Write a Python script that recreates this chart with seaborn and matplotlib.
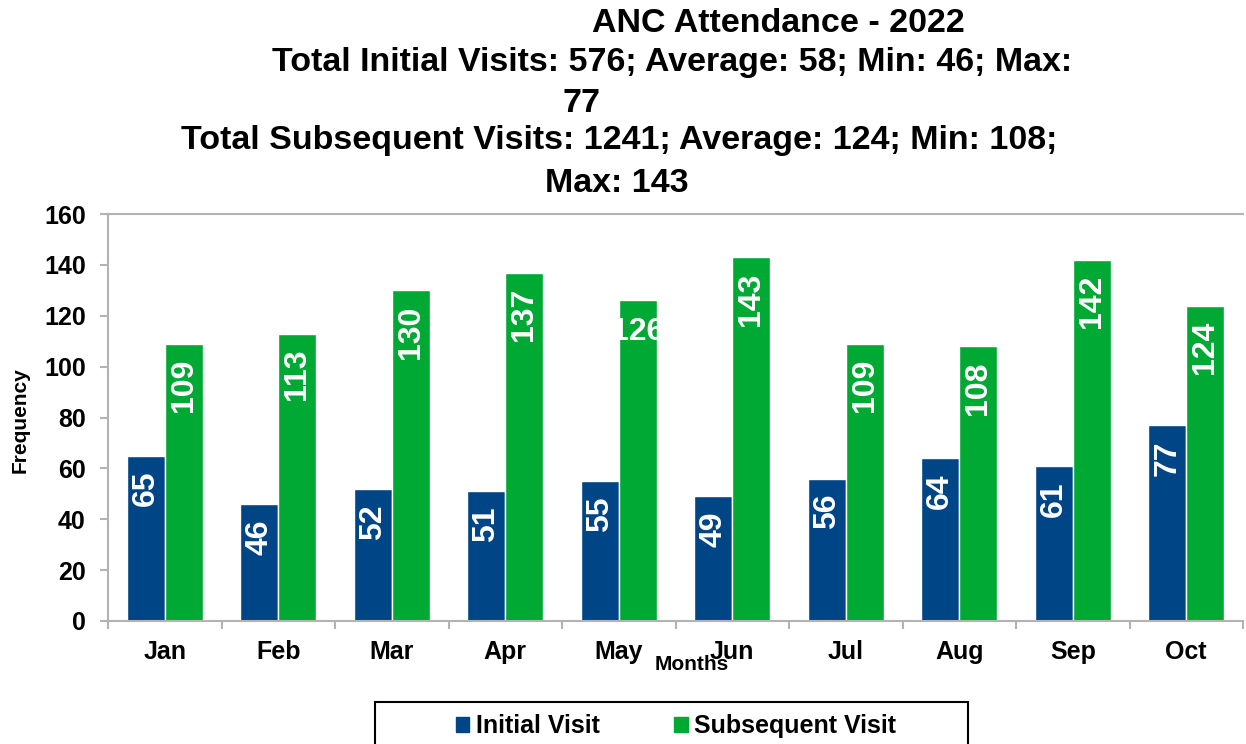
### anc attendance 2022 chart
#   grouped bars of initial and subsequent visits per month

# import statements
import matplotlib
matplotlib.use('Agg')
import matplotlib.pyplot as plt
import matplotlib.patches as mpatches
import pandas as pd
import seaborn as sns

# chart data
months      = ['Jan', 'Feb', 'Mar', 'Apr', 'May', 'Jun', 'Jul', 'Aug', 'Sep', 'Oct']
initial     = [65, 46, 52, 51, 55, 49, 56, 64, 61, 77]
subsequent  = [109, 113, 130, 137, 126, 143, 109, 108, 142, 124]
series      = ['Initial Visit', 'Subsequent Visit']
y_ticks     = [0, 20, 40, 60, 80, 100, 120, 140, 160]
title_lines = ['ANC Attendance - 2022',
               'Total Initial Visits: 576; Average: 58; Min: 46; Max:',
               '77',
               'Total Subsequent Visits: 1241; Average: 124; Min: 108;',
               'Max: 143']

# long dataset for seaborn
df = pd.DataFrame({'month': months * 2,
                   'visits': initial + subsequent,
                   'type': [series[0]] * len(months) + [series[1]] * len(months)})

# graphical parameters
sns.set_style('white')
plt.rcParams['font.family'] = ['Liberation Sans', 'DejaVu Sans']
plt.rcParams['font.weight'] = 'bold'
plt.rcParams['text.color'] = 'black'
plt.rcParams['axes.labelcolor'] = 'black'
plt.rcParams['xtick.labelcolor'] = 'black'
plt.rcParams['ytick.labelcolor'] = 'black'
colors = {'Initial Visit': '#004586', 'Subsequent Visit': '#00a933'}
grey = '#b3b3b3'
W, H = 1246, 744

fig = plt.figure(figsize = (W / 100, H / 100), dpi = 100)
ax = fig.add_axes([108 / W, 1 - 621 / H, (1243 - 108) / W, (621 - 214) / H])

sns.barplot(data = df, x = 'month', y = 'visits', hue = 'type',
            order = months, hue_order = series, palette = colors,
            width = 0.67, saturation = 1, legend = False, ax = ax)

# bar labels, white, inside the top of each bar
for container in ax.containers:
    for bar in container:
        value = int(round(bar.get_height()))
        xc = bar.get_x() + bar.get_width() / 2
        top = bar.get_height()
        if value == 126:
            # this one is horizontal and clipped by its bar
            t = ax.annotate(str(value), (xc, top), xytext = (0, -23),
                            textcoords = 'offset points', ha = 'center',
                            va = 'center', color = 'white', fontsize = 23,
                            fontweight = 'bold')
            t.set_clip_path(bar)
        else:
            ax.annotate(str(value), (xc, top), xytext = (0, -11),
                        textcoords = 'offset points', ha = 'center',
                        va = 'top', rotation = 90, color = 'white',
                        fontsize = 23, fontweight = 'bold')

# axes styling
ax.set_xlim(-0.5, len(months) - 0.5)
ax.set_ylim(0, 160)
ax.set_yticks(y_ticks)
ax.set_xlabel('')
ax.set_ylabel('')
for side in ['left', 'bottom', 'top']:
    ax.spines[side].set_color(grey)
    ax.spines[side].set_linewidth(1.5)
ax.spines['right'].set_visible(False)
ax.set_xticks([i + 0.5 for i in range(-1, len(months))], minor = True)
ax.tick_params(axis = 'x', which = 'major', length = 0, pad = 14,
               labelsize = 18, labelcolor = 'black')
ax.tick_params(axis = 'x', which = 'minor', length = 6, width = 1.5,
               color = grey, direction = 'out', bottom = True)
ax.tick_params(axis = 'y', length = 6, width = 1.5, color = grey,
               direction = 'out', left = True, pad = 10, labelsize = 18,
               labelcolor = 'black')
for lab in ax.get_xticklabels() + ax.get_yticklabels():
    lab.set_fontweight('bold')

# axis titles
fig.text(692 / W, 1 - 665 / H, 'Months', ha = 'center', va = 'center',
         fontsize = 15, fontweight = 'bold', color = 'black')
fig.text(20 / W, 1 - 420 / H, 'Frequency', ha = 'center', va = 'center',
         rotation = 90, fontsize = 15, fontweight = 'bold', color = 'black')

# title, one line at a time
title_x = [778, 672, 581, 619, 617]
title_y = [24, 63, 104, 141, 183]
for line, tx, ty in zip(title_lines, title_x, title_y):
    fig.text(tx / W, 1 - ty / H, line, ha = 'center', va = 'center',
             fontsize = 24.5, fontweight = 'bold', color = 'black')

# legend below the plot, with its own box
handles = [mpatches.Patch(color = colors[s], label = s) for s in series]
fig.legend(handles = handles, loc = 'center', ncol = 2, frameon = False,
           bbox_to_anchor = (676 / W, 1 - 726 / H),
           handlelength = 0.55, handleheight = 0.55, handletextpad = 0.25,
           columnspacing = 3.0, prop = {'weight': 'bold', 'size': 18})
fig.add_artist(mpatches.Rectangle((375 / W, -0.03), (968 - 375) / W,
                                  0.03 + 1 - 702 / H, fill = False,
                                  edgecolor = 'black', linewidth = 1.5,
                                  transform = fig.transFigure))

plt.savefig('out.png', dpi = 100)
